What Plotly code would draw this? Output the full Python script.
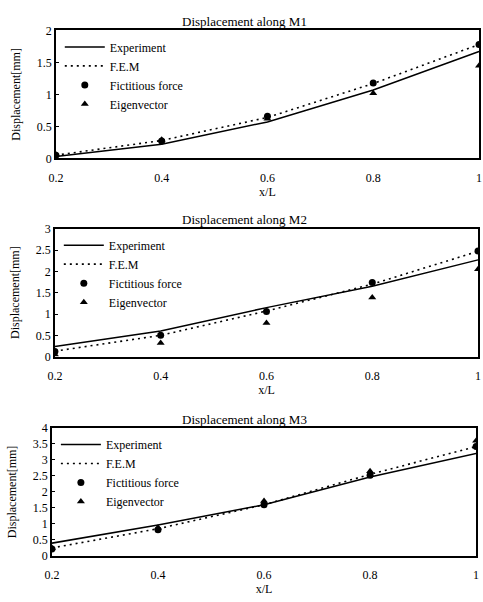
import plotly.graph_objects as go

x_vals = [0.2, 0.4, 0.6, 0.8, 1.0]

m1_experiment = [0.03, 0.22, 0.57, 1.07, 1.67]
m1_fem = [0.05, 0.28, 0.64, 1.17, 1.78]
m1_fictitious = [0.05, 0.27, 0.66, 1.18, 1.78]
m1_eigen = [0.06, 0.29, 0.62, 1.02, 1.45]

m2_experiment = [0.24, 0.60, 1.15, 1.65, 2.27]
m2_fem = [0.13, 0.50, 1.07, 1.70, 2.47]
m2_fictitious = [0.12, 0.50, 1.06, 1.74, 2.48]
m2_eigen = [0.05, 0.32, 0.79, 1.39, 2.05]

m3_experiment = [0.40, 0.97, 1.60, 2.47, 3.20]
m3_fem = [0.25, 0.85, 1.60, 2.55, 3.42]
m3_fictitious = [0.22, 0.82, 1.60, 2.52, 3.42]
m3_eigen = [0.25, 0.88, 1.72, 2.65, 3.60]

titles = ["Displacement along M1", "Displacement along M2", "Displacement along M3"]
y_ranges = [[0, 2], [0, 3], [0, 4]]
y_dticks = [0.5, 0.5, 0.5]
x_ticks = [0.2, 0.4, 0.6, 0.8, 1]
x_ticklabels = ["0.2", "0.4", "0.6", "0.8", "1"]

W, H = 483, 602
FONT = "Liberation Serif"

# pixel boxes (left, top, right, bottom) for each panel
boxes = [(49, 24, 482, 155), (48, 227, 481, 358), (45, 431, 479, 562)]

data = [
    (m1_experiment, m1_fem, m1_fictitious, m1_eigen),
    (m2_experiment, m2_fem, m2_fictitious, m2_eigen),
    (m3_experiment, m3_fem, m3_fictitious, m3_eigen),
]

fig = go.Figure()
layout = dict(
    width=W, height=H,
    margin=dict(l=0, r=0, t=0, b=0),
    paper_bgcolor="white", plot_bgcolor="white",
    font=dict(family=FONT, size=12, color="black"),
    showlegend=True,
)
annotations = []

for i, (exp, fem, fic, eig) in enumerate(data):
    n = i + 1
    xa = "x" if n == 1 else f"x{n}"
    ya = "y" if n == 1 else f"y{n}"
    lg = "legend" if n == 1 else f"legend{n}"
    fig.add_trace(go.Scatter(x=x_vals, y=exp, mode="lines", name="Experiment",
                             line=dict(color="black", width=1.5), xaxis=xa, yaxis=ya, legend=lg))
    fig.add_trace(go.Scatter(x=x_vals, y=fem, mode="lines", name="F.E.M",
                             line=dict(color="black", width=1.6, dash="2px,4px"), xaxis=xa, yaxis=ya, legend=lg))
    fig.add_trace(go.Scatter(x=x_vals, y=fic, mode="markers", name="Fictitious force",
                             marker=dict(color="black", size=7, symbol="circle"), xaxis=xa, yaxis=ya, legend=lg))
    fig.add_trace(go.Scatter(x=x_vals, y=eig, mode="markers", name="Eigenvector",
                             marker=dict(color="black", size=7, symbol="triangle-up"), xaxis=xa, yaxis=ya, legend=lg))

    l, t, r, b = boxes[i]
    xdom = [l / W, r / W]
    ydom = [1 - b / H, 1 - t / H]
    axis_common = dict(showline=True, linecolor="black", linewidth=1.5, mirror=True,
                       showgrid=False, zeroline=False, tickfont=dict(family=FONT, size=12))
    layout["xaxis" if n == 1 else f"xaxis{n}"] = dict(
        domain=xdom, anchor=ya, range=[0.2, 1.0], tickvals=x_ticks, ticktext=x_ticklabels,
        ticks="", ticklabelstandoff=7,
        title=dict(text="x/L", font=dict(family=FONT, size=12), standoff=2), **axis_common)
    layout["yaxis" if n == 1 else f"yaxis{n}"] = dict(
        domain=ydom, anchor=xa, range=y_ranges[i], dtick=y_dticks[i], tick0=0,
        ticks="inside", ticklen=3, tickcolor="black",
        title=dict(text="Displacement[mm]", font=dict(family=FONT, size=12), standoff=14), **axis_common)
    layout[lg] = dict(
        x=(l + 4) / W, y=1 - (t + 2) / H, xanchor="left", yanchor="top",
        bgcolor="rgba(0,0,0,0)", borderwidth=0, tracegroupgap=0,
        font=dict(family=FONT, size=12), itemwidth=40,
    )
    annotations.append(dict(
        text=titles[i], x=0.5, y=1 - (t - 9) / H, xref="paper", yref="paper",
        showarrow=False, font=dict(family=FONT, size=13), xanchor="center", yanchor="middle"))

layout["annotations"] = annotations
fig.update_layout(**layout)
fig.write_html("out.html", config={"displayModeBar": False},
               post_script="document.body.style.margin='0';document.body.style.overflow='hidden';")
